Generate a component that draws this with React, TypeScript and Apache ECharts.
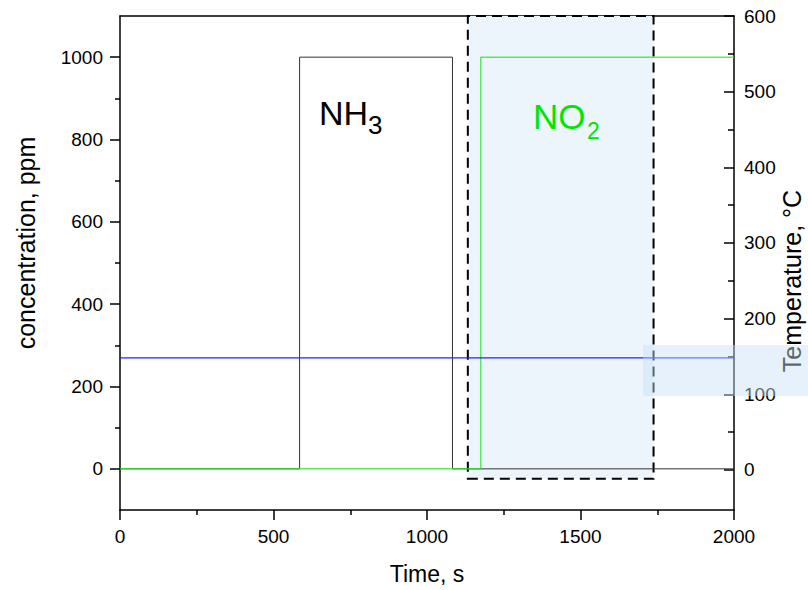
import React, { useEffect, useRef } from "react";
import * as echarts from "echarts";

// ---- data ----
const timeNH3 = [0, 585, 585, 1083, 1083, 2000];
const ppmNH3 = [0, 0, 1000, 1000, 0, 0];
const timeNO2 = [0, 1175, 1175, 2000];
const ppmNO2 = [0, 0, 1000, 1000];
const timeTemp = [0, 2000];
const tempC = [148, 148];

const xMajor = [0, 500, 1000, 1500, 2000];
const leftMajor = [0, 200, 400, 600, 800, 1000];
const leftMinor = [100, 300, 500, 700, 900];
const rightMajor = [0, 100, 200, 300, 400, 500, 600];
const rightMinor = [50, 150, 250, 350, 450, 550];
const boxTime = [1133, 1738];
const boxPpm = [-24, 1104];

const FONT = "'Liberation Sans', Arial, Helvetica, sans-serif";

export default function App() {
  const ref = useRef<HTMLDivElement>(null);
  useEffect(() => {
    if (!ref.current) return;
    const chart = echarts.init(ref.current, null, { renderer: "svg" });
    const axisLine = { show: true, onZero: false, lineStyle: { color: "#000", width: 1.5 } };
    const tickStyle = { color: "#000", width: 1.5 };
    const fmt = (v: number) => String(v);
    const labelStyle = { color: "#000", fontSize: 19, fontFamily: FONT, formatter: fmt };
    const zip = (a: number[], b: number[]) => a.map((v, i) => [v, b[i]]);
    const option: any = {
      animation: false,
      backgroundColor: "#fff",
      grid: { left: 120, top: 16, width: 614, height: 497, containLabel: false },
      xAxis: [
        {
          type: "value",
          min: 0,
          max: 2000,
          interval: 500,
          position: "bottom",
          axisLine,
          axisTick: { show: true, length: 10, lineStyle: tickStyle },
          minorTick: { show: true, splitNumber: 2, length: 5, lineStyle: tickStyle },
          axisLabel: { ...labelStyle, margin: 17, customValues: xMajor },
          splitLine: { show: false },
          minorSplitLine: { show: false },
          name: "Time, s",
          nameLocation: "middle",
          nameGap: 52,
          nameTextStyle: { color: "#000", fontSize: 23, fontFamily: FONT },
        },
        {
          type: "value",
          min: 0,
          max: 2000,
          position: "top",
          axisLine,
          axisTick: { show: false },
          axisLabel: { show: false },
          splitLine: { show: false },
        },
      ],
      yAxis: [
        {
          type: "value",
          min: -100,
          max: 1100,
          position: "left",
          axisLine,
          axisTick: { show: true, length: 10, lineStyle: tickStyle, customValues: leftMajor },
          axisLabel: { ...labelStyle, margin: 17, customValues: leftMajor },
          splitLine: { show: false },
        },
        {
          type: "value",
          min: -53,
          max: 600,
          position: "right",
          axisLine,
          axisTick: { show: true, inside: true, length: 10, lineStyle: tickStyle, customValues: rightMajor },
          axisLabel: { ...labelStyle, margin: 10, customValues: rightMajor },
          splitLine: { show: false },
        },
        {
          type: "value",
          min: -100,
          max: 1100,
          position: "left",
          axisLine: { show: false, onZero: false },
          axisTick: { show: true, length: 5, lineStyle: tickStyle, customValues: leftMinor },
          axisLabel: { show: false },
          splitLine: { show: false },
        },
        {
          type: "value",
          min: -53,
          max: 600,
          position: "right",
          axisLine: { show: false, onZero: false },
          axisTick: { show: true, inside: true, length: 6, lineStyle: tickStyle, customValues: rightMinor },
          axisLabel: { show: false },
          splitLine: { show: false },
        },
      ],
      series: [
        {
          type: "line",
          data: [],
          silent: true,
          z: 1,
          markArea: {
            silent: true,
            label: { show: false },
            itemStyle: {
              color: "#ecf4fc",
              opacity: 1,
              borderColor: "#000",
              borderWidth: 2,
              borderType: [10, 6],
            },
            data: [[{ coord: [boxTime[0], boxPpm[0]] }, { coord: [boxTime[1], boxPpm[1]] }]],
          },
        },
        {
          name: "NH3",
          type: "line",
          z: 3,
          data: zip(timeNH3, ppmNH3),
          symbol: "none",
          lineStyle: { color: "#333", width: 1 },
          silent: true,
        },
        {
          name: "NO2",
          type: "line",
          z: 4,
          data: zip(timeNO2, ppmNO2),
          symbol: "none",
          lineStyle: { color: "rgba(40,230,40,0.75)", width: 1.5 },
          silent: true,
        },
        {
          name: "Temperature",
          type: "line",
          z: 4,
          yAxisIndex: 1,
          data: zip(timeTemp, tempC),
          symbol: "none",
          lineStyle: { color: "#2020ff", width: 1.2 },
          silent: true,
        },
      ],
      graphic: [
        {
          type: "text",
          x: 26,
          y: 243,
          z: 50,
          rotation: Math.PI / 2,
          style: { text: "concentration, ppm", fill: "#000", fontSize: 25, fontFamily: FONT, align: "center", verticalAlign: "middle" },
        },
        {
          type: "text",
          x: 792,
          y: 281,
          z: 50,
          rotation: Math.PI / 2,
          style: { text: "Temperature, °C", fill: "#000", fontSize: 25, fontFamily: FONT, align: "center", verticalAlign: "middle" },
        },
        {
          type: "text",
          x: 319,
          y: 113,
          z: 50,
          style: { text: "NH", fill: "#000", fontSize: 34, fontFamily: FONT, align: "left", verticalAlign: "middle" },
        },
        {
          type: "text",
          x: 368,
          y: 125,
          z: 50,
          style: { text: "3", fill: "#000", fontSize: 26, fontFamily: FONT, align: "left", verticalAlign: "middle" },
        },
        {
          type: "text",
          x: 533,
          y: 116,
          z: 50,
          style: { text: "NO", fill: "#00e600", fontSize: 35, fontFamily: FONT, align: "left", verticalAlign: "middle" },
        },
        {
          type: "text",
          x: 587,
          y: 131,
          z: 50,
          style: { text: "2", fill: "#00e600", fontSize: 23, fontFamily: FONT, align: "left", verticalAlign: "middle" },
        },
        {
          type: "rect",
          z: 100,
          silent: true,
          shape: { x: 643, y: 345, width: 165, height: 51 },
          style: { fill: "rgba(200,224,247,0.45)" },
        },
      ],
    };
    chart.setOption(option);
    return () => chart.dispose();
  }, []);
  return (
    <div
      ref={ref}
      style={{ position: "absolute", left: 0, top: 0, width: 808, height: 590 }}
    />
  );
}
